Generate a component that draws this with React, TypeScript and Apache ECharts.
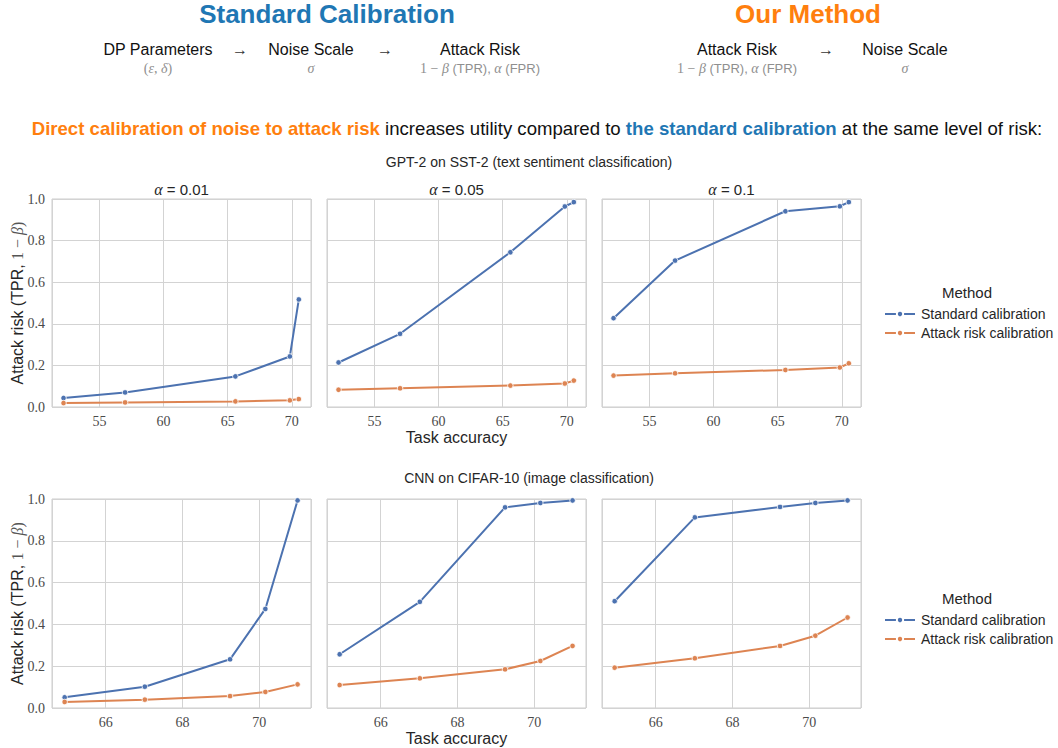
import React, { useEffect, useRef } from "react";
import * as echarts from "echarts";

// ---------- data ----------
const seriesNames = ["Standard calibration", "Attack risk calibration"];
const alphaTitles = ["0.01", "0.05", "0.1"];
const rowTitles = [
  "GPT-2 on SST-2 (text sentiment classification)",
  "CNN on CIFAR-10 (image classification)",
];

const gptAcc = [52.2, 57.0, 65.6, 69.85, 70.55];
const gptStdA001 = [0.043, 0.07, 0.147, 0.243, 0.517];
const gptStdA005 = [0.214, 0.352, 0.744, 0.964, 0.985];
const gptStdA01 = [0.427, 0.704, 0.941, 0.965, 0.985];
const gptRiskA001 = [0.019, 0.022, 0.027, 0.032, 0.038];
const gptRiskA005 = [0.083, 0.09, 0.103, 0.113, 0.127];
const gptRiskA01 = [0.151, 0.162, 0.178, 0.19, 0.21];

const cnnAcc = [64.93, 67.02, 69.24, 70.16, 71.0];
const cnnStdA001 = [0.051, 0.102, 0.233, 0.474, 0.993];
const cnnStdA005 = [0.257, 0.508, 0.96, 0.981, 0.993];
const cnnStdA01 = [0.511, 0.912, 0.962, 0.981, 0.993];
const cnnRiskA001 = [0.029, 0.04, 0.057, 0.077, 0.113];
const cnnRiskA005 = [0.11, 0.142, 0.185, 0.225, 0.297];
const cnnRiskA01 = [0.193, 0.238, 0.297, 0.346, 0.433];

const yTicks = [0, 0.2, 0.4, 0.6, 0.8, 1.0];

// ---------- style ----------
const BLUE = "#4c72b0";
const ORANGE = "#dd8452";
const SANS = '"Liberation Sans", Arial, sans-serif';
const SERIF = '"Liberation Serif", "DejaVu Serif", serif';
const GRIDC = "#d3d3d3";
const TXT = "#262626";

const colLeft = [52, 327, 602];
const colW = 259;
const rowTop = [199, 499];
const rowH = [208, 209];
const xRange = [
  [51.3, 71.5],
  [64.6, 71.35],
];
const xStep = [5, 2];

export default function App() {
  const ref = useRef<HTMLDivElement>(null);
  useEffect(() => {
    if (!ref.current) return;
    const chart = echarts.init(ref.current, null, { renderer: "svg" });

    const rows = [
      { acc: gptAcc, std: [gptStdA001, gptStdA005, gptStdA01], risk: [gptRiskA001, gptRiskA005, gptRiskA01] },
      { acc: cnnAcc, std: [cnnStdA001, cnnStdA005, cnnStdA01], risk: [cnnRiskA001, cnnRiskA005, cnnRiskA01] },
    ];

    const grids: any[] = [];
    const xAxes: any[] = [];
    const yAxes: any[] = [];
    const series: any[] = [];
    const graphics: any[] = [];

    rows.forEach((row, r) => {
      for (let c = 0; c < 3; c++) {
        const i = r * 3 + c;
        grids.push({
          left: colLeft[c],
          top: rowTop[r],
          width: colW,
          height: rowH[r],
          show: true,
          borderColor: "#cccccc",
          borderWidth: 1,
          containLabel: false,
        });
        xAxes.push({
          gridIndex: i,
          type: "value",
          min: xRange[r][0],
          max: xRange[r][1],
          minInterval: xStep[r],
          maxInterval: xStep[r],
          splitNumber: 4,
          axisLine: { show: false },
          axisTick: { show: false },
          axisLabel: {
            showMinLabel: false,
            showMaxLabel: false,
            fontFamily: SERIF,
            fontSize: 14,
            color: "#4a4a4a",
            margin: 7,
          },
          splitLine: { show: true, lineStyle: { color: GRIDC, width: 1 } },
        });
        yAxes.push({
          gridIndex: i,
          type: "value",
          min: yTicks[0],
          max: yTicks[yTicks.length - 1],
          interval: 0.2,
          axisLine: { show: false },
          axisTick: { show: false },
          axisLabel: {
            show: c === 0,
            formatter: (v: number) => v.toFixed(1),
            fontFamily: SERIF,
            fontSize: 14,
            color: "#4a4a4a",
            margin: 7,
          },
          splitLine: { show: true, lineStyle: { color: GRIDC, width: 1 } },
        });
        const mk = (name: string, vals: number[], color: string) => ({
          type: "line",
          name,
          xAxisIndex: i,
          yAxisIndex: i,
          data: row.acc.map((x, k) => [x, vals[k]]),
          symbol: "circle",
          symbolSize: 5.5,
          showSymbol: true,
          lineStyle: { width: 2, color },
          itemStyle: { color, borderColor: "#ffffff", borderWidth: 0.8 },
          emphasis: { disabled: true },
        });
        series.push(mk(seriesNames[0], row.std[c], BLUE));
        series.push(mk(seriesNames[1], row.risk[c], ORANGE));

        if (r === 0) {
          graphics.push({
            type: "text",
            x: colLeft[c] + colW / 2,
            y: 189,
            style: {
              text: `{a|α}{s| = ${alphaTitles[c]}}`,
              align: "center",
              verticalAlign: "middle",
              rich: {
                a: { fontFamily: SERIF, fontStyle: "italic", fontSize: 16, fill: TXT },
                s: { fontFamily: SANS, fontSize: 15, fill: TXT },
              },
            },
          });
        }
      }
      const midY = rowTop[r] + rowH[r] / 2;
      graphics.push({
        type: "text",
        x: 17,
        y: midY,
        rotation: Math.PI / 2,
        style: {
          text: "{s|Attack risk (TPR, }{m|1 − }{mi|β}{m|)}",
          align: "center",
          verticalAlign: "middle",
          rich: {
            s: { fontFamily: SANS, fontSize: 16, fill: TXT },
            m: { fontFamily: SERIF, fontSize: 16, fill: "#555" },
            mi: { fontFamily: SERIF, fontStyle: "italic", fontSize: 16, fill: "#555" },
          },
        },
      });
      graphics.push({
        type: "text",
        x: colLeft[1] + colW / 2,
        y: rowTop[r] + rowH[r] + 30,
        style: {
          text: "Task accuracy",
          font: `16px ${SANS}`,
          fill: TXT,
          align: "center",
          verticalAlign: "middle",
        },
      });
      graphics.push({
        type: "text",
        x: 529,
        y: r === 0 ? 162 : 478,
        style: {
          text: rowTitles[r],
          font: `14px ${SANS}`,
          fill: TXT,
          align: "center",
          verticalAlign: "middle",
        },
      });
      graphics.push({
        type: "text",
        x: 967,
        y: r === 0 ? 292 : 598,
        style: {
          text: "Method",
          font: `15px ${SANS}`,
          fill: TXT,
          align: "center",
          verticalAlign: "middle",
        },
      });
    });

    // header
    const hdr = (text: string, x: number, y: number, font: string, fill: string) => ({
      type: "text",
      x,
      y,
      style: { text, font, fill, align: "center", verticalAlign: "middle" },
    });
    graphics.push(hdr("Standard Calibration", 327, 14, `bold 26px ${SANS}`, "#1f77b4"));
    graphics.push(hdr("Our Method", 808, 14, `bold 26px ${SANS}`, "#ff7f0e"));
    graphics.push(hdr("DP Parameters", 158, 49, `16px ${SANS}`, "#111"));
    graphics.push(hdr("→", 240, 49, `16px ${SERIF}`, "#333"));
    graphics.push(hdr("Noise Scale", 311, 49, `16px ${SANS}`, "#111"));
    graphics.push(hdr("→", 385, 49, `16px ${SERIF}`, "#333"));
    graphics.push(hdr("Attack Risk", 480, 49, `16px ${SANS}`, "#111"));
    graphics.push(hdr("Attack Risk", 737, 49, `16px ${SANS}`, "#111"));
    graphics.push(hdr("→", 826, 49, `16px ${SERIF}`, "#333"));
    graphics.push(hdr("Noise Scale", 905, 49, `16px ${SANS}`, "#111"));
    const GRAY = "#8f8f8f";
    const subRich = {
      m: { fontFamily: SERIF, fontSize: 14, fill: GRAY },
      mi: { fontFamily: SERIF, fontStyle: "italic", fontSize: 14, fill: GRAY },
      s: { fontFamily: SANS, fontSize: 13, fill: GRAY },
    };
    const sub = (text: string, x: number) => ({
      type: "text",
      x,
      y: 68,
      style: { text, align: "center", verticalAlign: "middle", rich: subRich },
    });
    graphics.push(sub("{m|(}{mi|ε}{m|, }{mi|δ}{m|)}", 158));
    graphics.push(sub("{mi|σ}", 311));
    graphics.push(sub("{m|1 − }{mi|β}{s| (TPR), }{mi|α}{s| (FPR)}", 480));
    graphics.push(sub("{m|1 − }{mi|β}{s| (TPR), }{mi|α}{s| (FPR)}", 737));
    graphics.push(sub("{mi|σ}", 905));
    graphics.push({
      type: "text",
      x: 537,
      y: 128,
      style: {
        text: "{o|Direct calibration of noise to attack risk}{n| increases utility compared to }{b|the standard calibration}{n| at the same level of risk:}",
        align: "center",
        verticalAlign: "middle",
        rich: {
          o: { fontFamily: SANS, fontWeight: "bold", fontSize: 18.6, fill: "#ff7f0e" },
          b: { fontFamily: SANS, fontWeight: "bold", fontSize: 18.6, fill: "#1f77b4" },
          n: { fontFamily: SANS, fontSize: 18.6, fill: "#111" },
        },
      },
    });

    const legend = (top: number) => ({
      orient: "vertical",
      left: 879,
      top,
      itemWidth: 30,
      itemHeight: 8,
      itemGap: 5,
      data: seriesNames,
      selectedMode: false,
      textStyle: { fontFamily: SANS, fontSize: 14, color: TXT, padding: [0, 0, 0, 1] },
    });

    chart.setOption({
      animation: false,
      backgroundColor: "#ffffff",
      grid: grids,
      xAxis: xAxes,
      yAxis: yAxes,
      series,
      legend: [legend(302), legend(608)],
      graphic: graphics,
    });
    return () => chart.dispose();
  }, []);
  return (
    <div
      ref={ref}
      style={{ position: "fixed", left: 0, top: 0, width: 1058, height: 748 }}
    />
  );
}
